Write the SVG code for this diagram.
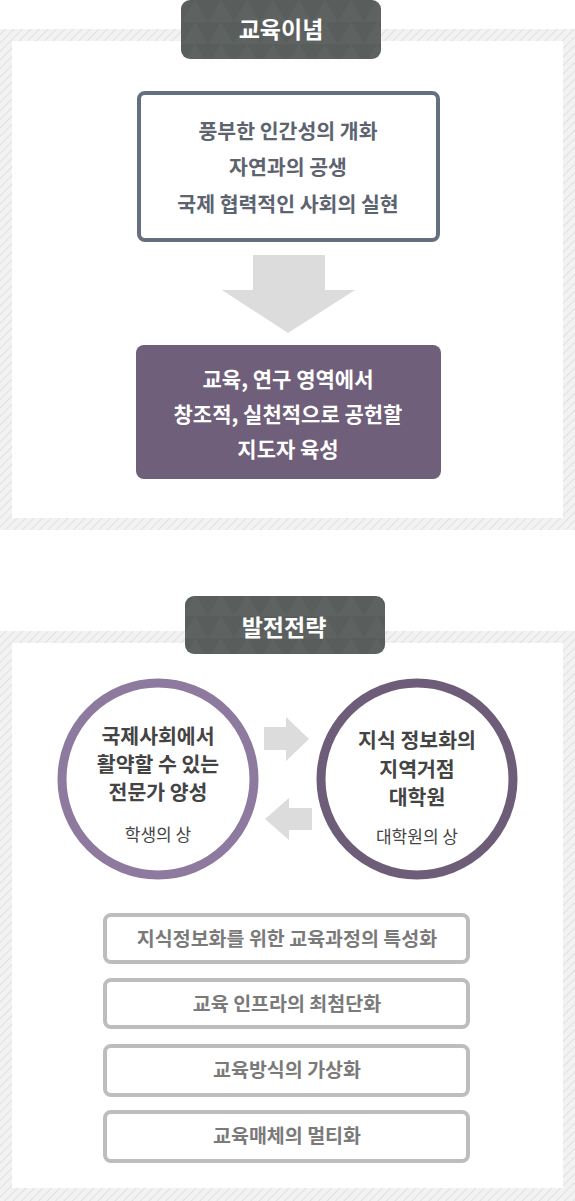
<svg xmlns="http://www.w3.org/2000/svg" width="575" height="1201" viewBox="0 0 575 1201">
<defs>
<pattern id="hatch" width="6" height="6" patternUnits="userSpaceOnUse" patternTransform="rotate(45)">
<rect width="6" height="6" fill="#f2f2f2"/>
<line x1="0" y1="0" x2="0" y2="6" stroke="#d4d4d4" stroke-width="1.2"/>
</pattern>
<pattern id="tri" width="26" height="22" patternUnits="userSpaceOnUse">
<rect width="26" height="22" fill="#595e5d"/>
<polygon points="0,22 13,0 26,22" fill="#5e6362"/>
</pattern>
<style>
.kr{font-family:"Noto Sans CJK KR","Noto Sans",sans-serif;text-anchor:middle}
.hd{font-size:23px;font-weight:bold;fill:#ffffff}
.b1{font-size:20.5px;font-weight:bold;fill:#5d6470}
.pw{font-size:21px;font-weight:bold;fill:#ffffff}
.ct{font-size:20.5px;font-weight:bold;fill:#444444}
.cs{font-size:17px;fill:#444444}
.bx{font-size:19.5px;font-weight:bold;fill:#7a7a7a}
.box{fill:#ffffff;stroke:#bdbdbd;stroke-width:4}
.arr{fill:#dcdcdc}
</style>
</defs>
<rect width="575" height="1201" fill="#ffffff"/>
<g id="frame1">
<rect x="0" y="29" width="575" height="501" fill="url(#hatch)"/>
<rect x="12" y="41" width="551" height="477" fill="#ffffff"/>
</g>
<g id="frame2">
<rect x="0" y="631" width="575" height="570" fill="url(#hatch)"/>
<rect x="12" y="643" width="551" height="545" fill="#ffffff"/>
</g>
<g id="header1">
<rect x="181" y="0" width="200" height="59" rx="9" fill="url(#tri)"/>
<text class="kr hd" x="281" y="38">교육이념</text>
</g>
<g id="philosophy">
<rect x="139" y="93" width="299" height="147" rx="6" fill="#ffffff" stroke="#666f7e" stroke-width="4"/>
<text class="kr b1" x="288" y="139">풍부한 인간성의 개화</text>
<text class="kr b1" x="288" y="175">자연과의 공생</text>
<text class="kr b1" x="288" y="212">국제 협력적인 사회의 실현</text>
</g>
<g id="connectors">
<polygon class="arr" points="253,255 325,255 325,290 355,290 288,333 222,290 253,290"/>
<polygon class="arr" points="264,727 286,727 286,717 309,739 286,761 286,750 264,750"/>
<polygon class="arr" points="312,808 289,808 289,798 265,819 289,840 289,830 312,830"/>
</g>
<g id="goal">
<rect x="136" y="345" width="305" height="134" rx="8" fill="#6f5f7a"/>
<text class="kr pw" x="288" y="387">교육, 연구 영역에서</text>
<text class="kr pw" x="288" y="422">창조적, 실천적으로 공헌할</text>
<text class="kr pw" x="288" y="457">지도자 육성</text>
</g>
<g id="header2">
<rect x="185" y="596" width="200" height="58" rx="9" fill="url(#tri)"/>
<text class="kr hd" x="284" y="636">발전전략</text>
</g>
<g id="student">
<circle cx="158" cy="779" r="96" fill="#ffffff" stroke="#8e7a9f" stroke-width="9"/>
<text class="kr ct" x="158" y="744">국제사회에서</text>
<text class="kr ct" x="158" y="772">활약할 수 있는</text>
<text class="kr ct" x="158" y="800">전문가 양성</text>
<text class="kr cs" x="158" y="841">학생의 상</text>
</g>
<g id="graduate">
<circle cx="417" cy="779" r="96" fill="#ffffff" stroke="#6e5d78" stroke-width="9"/>
<text class="kr ct" x="417" y="748">지식 정보화의</text>
<text class="kr ct" x="417" y="777">지역거점</text>
<text class="kr ct" x="417" y="805">대학원</text>
<text class="kr cs" x="417" y="843">대학원의 상</text>
</g>
<g id="s1">
<rect class="box" x="105" y="915" width="363" height="47" rx="6"/>
<text class="kr bx" x="287" y="946">지식정보화를 위한 교육과정의 특성화</text>
</g>
<g id="s2">
<rect class="box" x="105" y="980" width="363" height="47" rx="6"/>
<text class="kr bx" x="287" y="1011">교육 인프라의 최첨단화</text>
</g>
<g id="s3">
<rect class="box" x="105" y="1046" width="363" height="49" rx="6"/>
<text class="kr bx" x="287" y="1077">교육방식의 가상화</text>
</g>
<g id="s4">
<rect class="box" x="105" y="1112" width="363" height="49" rx="6"/>
<text class="kr bx" x="287" y="1143">교육매체의 멀티화</text>
</g>
</svg>
